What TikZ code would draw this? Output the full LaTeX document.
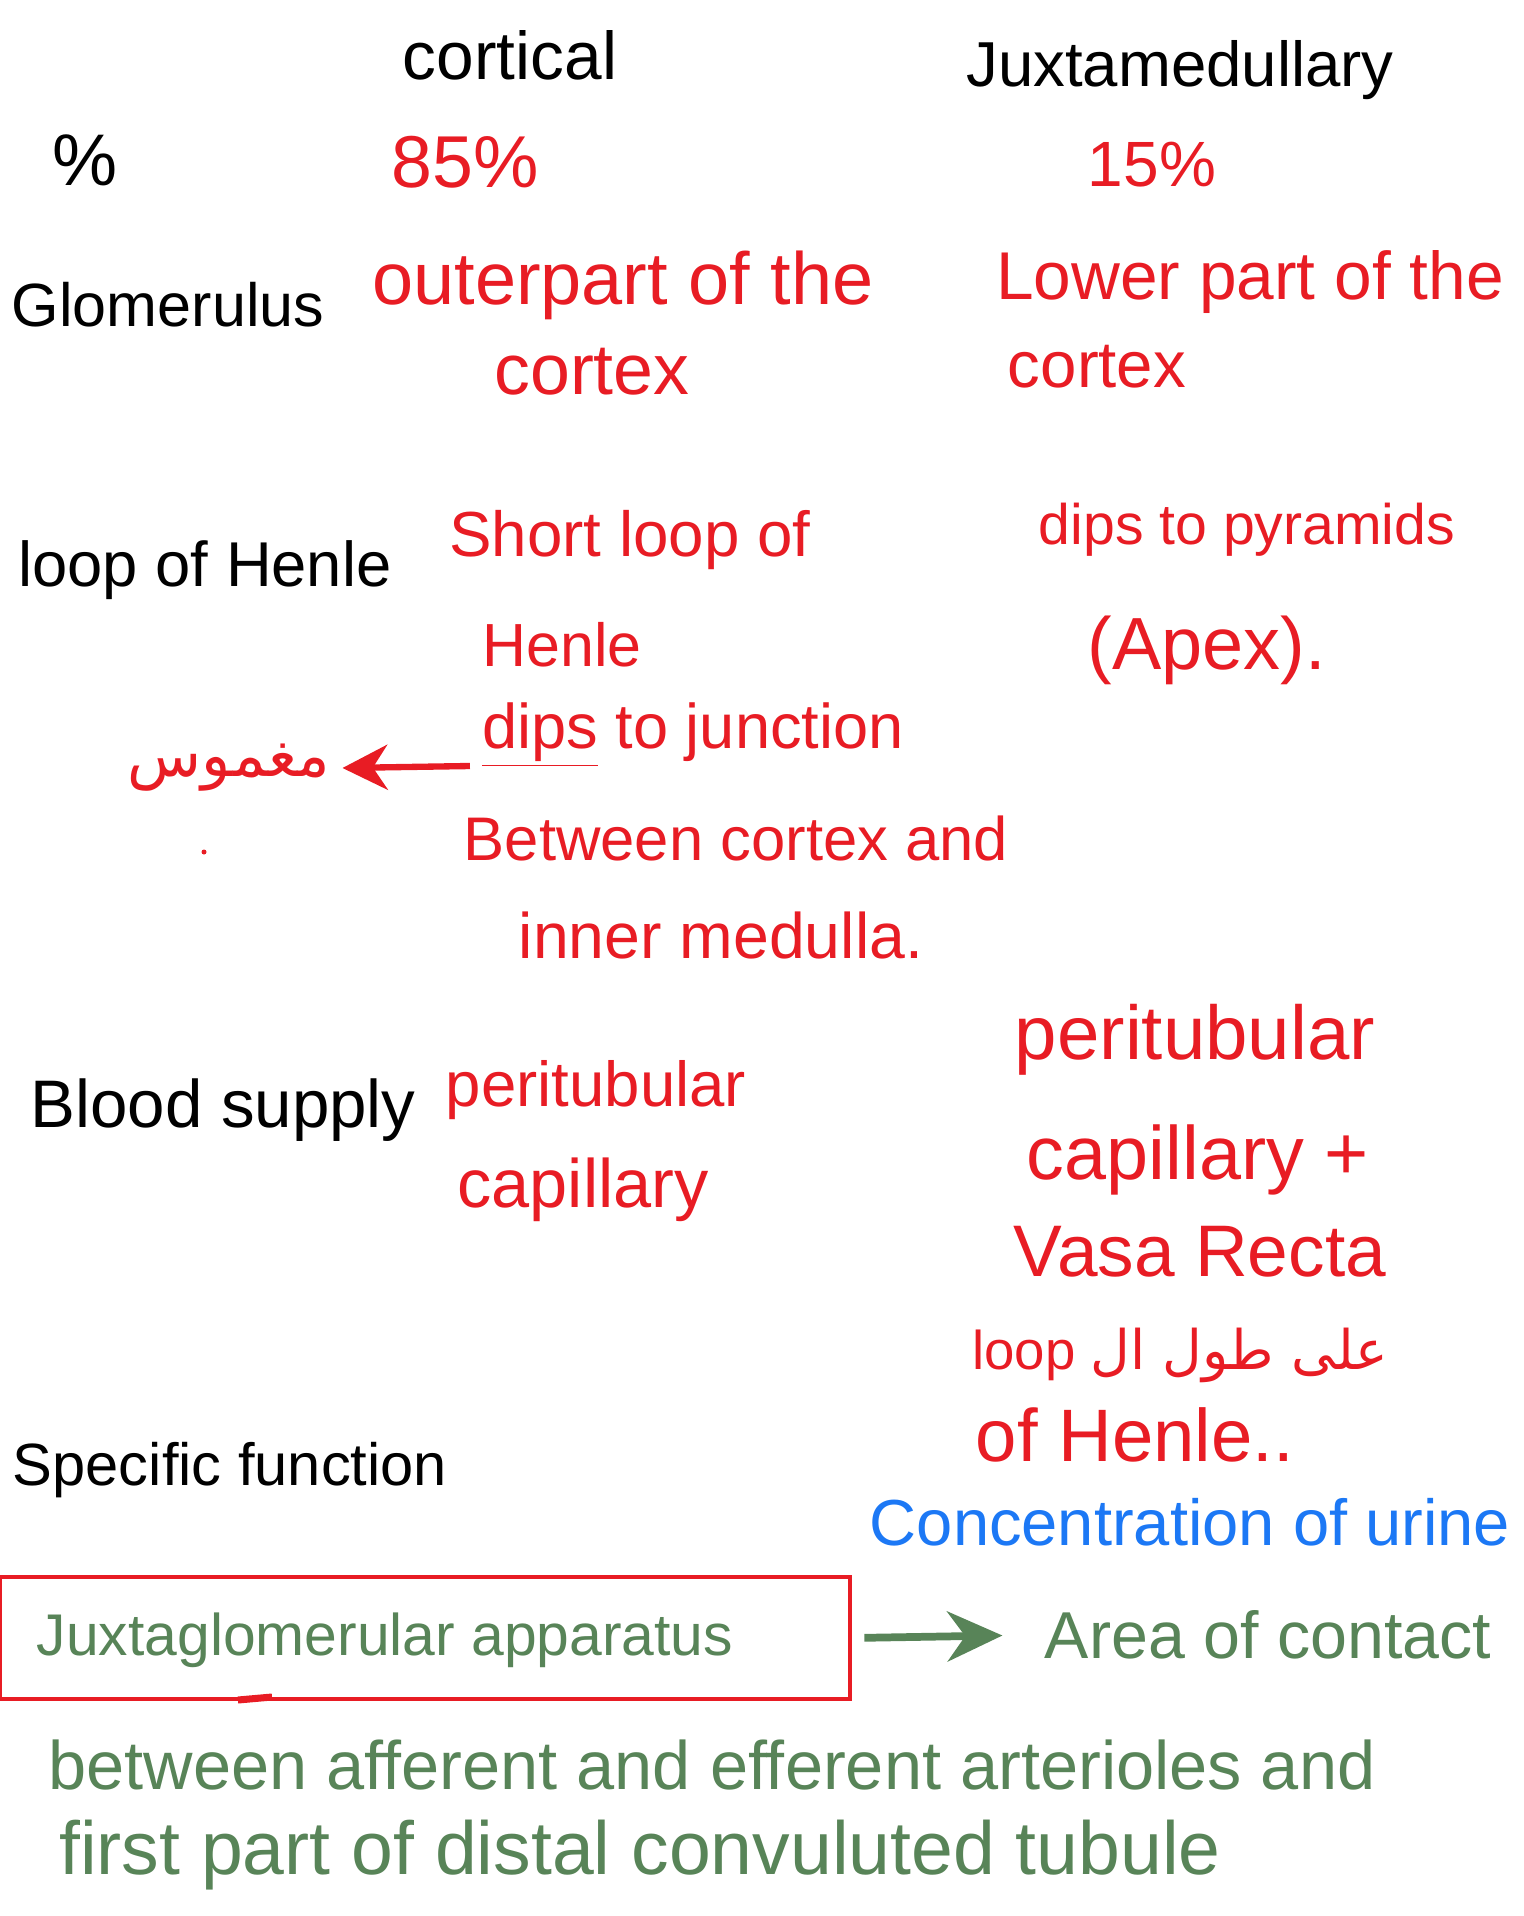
\documentclass[tikz,border=0pt]{standalone}
\usepackage{fontspec}
\setmainfont{Liberation Sans}
\newfontfamily\arabicfont[Script=Arabic]{DejaVu Sans}
\TeXXeTstate=1
\usetikzlibrary{arrows.meta,positioning}
\definecolor{inkred}{RGB}{232,28,36}
\definecolor{inkgreen}{RGB}{88,132,88}
\definecolor{inkblue}{RGB}{28,120,245}
\newcommand{\inkfit}[2]{\resizebox{#1}{!}{#2}}
\tikzset{
  head/.style={font=\fontsize{20}{24}\selectfont},
  redtxt/.style={text=inkred, font=\fontsize{20}{24}\selectfont},
  greentxt/.style={text=inkgreen, font=\fontsize{20}{24}\selectfont},
  bluetxt/.style={text=inkblue, font=\fontsize{20}{24}\selectfont},
  jgbox/.style={draw=inkred, line width=1.2pt, minimum width=8.5cm, minimum height=1.22cm}
}
\begin{document}
\begin{tikzpicture}[x=0.01cm, y=-0.01cm, >=stealth]
\useasboundingbox (0,0) rectangle (1523,1916);
% column heads
\node[head] (cortical) at (510,55) {\inkfit{2.14cm}{cortical}};
\node[head] (juxta) at (1180,70) {\inkfit{4.27cm}{Juxtamedullary}};
% percent
\node[head] (pct) at (85,160) {\inkfit{0.65cm}{\%}};
\node[redtxt] (p85) at (465,162) {\inkfit{1.47cm}{85\%}};
\node[redtxt] (p15) at (1152,165) {\inkfit{1.28cm}{15\%}};
% glomerulus
\node[head] (glom) at (168,305) {\inkfit{3.12cm}{Glomerulus}};
\node[redtxt] (outer) at (623,285) {\inkfit{5.01cm}{outerpart of the}};
\node[redtxt] (outerb) at (592,372) {\inkfit{1.95cm}{cortex}};
\node[redtxt] (lower) at (1250,282) {\inkfit{5.07cm}{Lower part of the}};
\node[redtxt] (lowerb) at (1097,367) {\inkfit{1.78cm}{cortex}};
% loop of Henle
\node[head] (loop) at (205,570) {\inkfit{3.73cm}{loop of Henle}};
\node[redtxt] (short) at (630,540) {\inkfit{3.61cm}{Short loop of}};
\node[redtxt] (shortb) at (562,645) {\inkfit{1.59cm}{Henle}};
\node[redtxt] (dips) at (693,735) {\inkfit{4.21cm}{\underline{dips} to junction}};
\node[redtxt] (maghmus) at (229,768) {\inkfit{2.02cm}{\arabicfont\beginR مغموس\endR}};
\node[redtxt] (betw) at (736,838) {\inkfit{5.44cm}{Between cortex and}};
\node[redtxt] (inner) at (721,935) {\inkfit{4.04cm}{inner medulla.}};
\node[redtxt] (pyr) at (1247,530) {\inkfit{4.16cm}{dips to pyramids}};
\node[redtxt] (apex) at (1207,650) {\inkfit{2.38cm}{(Apex).}};
\fill[inkred] (204,852) circle (2.5);
\draw[inkred, line width=1.8pt, -{Stealth[length=4.5mm,width=4.5mm]}] (dips.south west) ++(0,-14) -- (maghmus.east);
% blood supply
\node[head] (blood) at (223,1110) {\inkfit{3.85cm}{Blood supply}};
\node[redtxt] (peri) at (596,1090) {\inkfit{3.0cm}{peritubular}};
\node[redtxt] (perib) at (583,1190) {\inkfit{2.51cm}{capillary}};
\node[redtxt] (peri2) at (1195,1040) {\inkfit{3.6cm}{peritubular}};
\node[redtxt] (peri2b) at (1198,1160) {\inkfit{3.42cm}{capillary +}};
\node[redtxt] (vasa) at (1200,1252) {\inkfit{3.72cm}{Vasa Recta}};
\node[redtxt] (alongloop) at (1180,1355) {\inkfit{4.15cm}{loop \arabicfont\beginR على طول ال\endR}};
\node[redtxt] (alongb) at (1135,1435) {\inkfit{3.18cm}{of Henle..}};
% specific function
\node[head] (spec) at (230,1470) {\inkfit{4.34cm}{Specific function}};
\node[bluetxt] (conc) at (1190,1522) {\inkfit{6.4cm}{Concentration of urine}};
\node[jgbox] (jgbox) at (425,1638) {};
\node[greentxt] (jga) at (385,1640) {\inkfit{6.96cm}{Juxtaglomerular apparatus}};
\node[greentxt] (area) at (1268,1635) {\inkfit{4.46cm}{Area of contact}};
\draw[inkgreen, line width=2.2pt, -{Stealth[length=5.5mm,width=5mm]}, shorten <=0.12cm, shorten >=0.3cm] (jgbox.east) -- (area.west);
\draw[inkred, line width=2pt] (238,1700) -- (272,1697);
\node[greentxt] (betw2) at (712,1765) {\inkfit{13.26cm}{between afferent and efferent arterioles and}};
\node[greentxt] (first) at (640,1855) {\inkfit{11.61cm}{first part of distal convuluted tubule}};
\end{tikzpicture}
\end{document}
